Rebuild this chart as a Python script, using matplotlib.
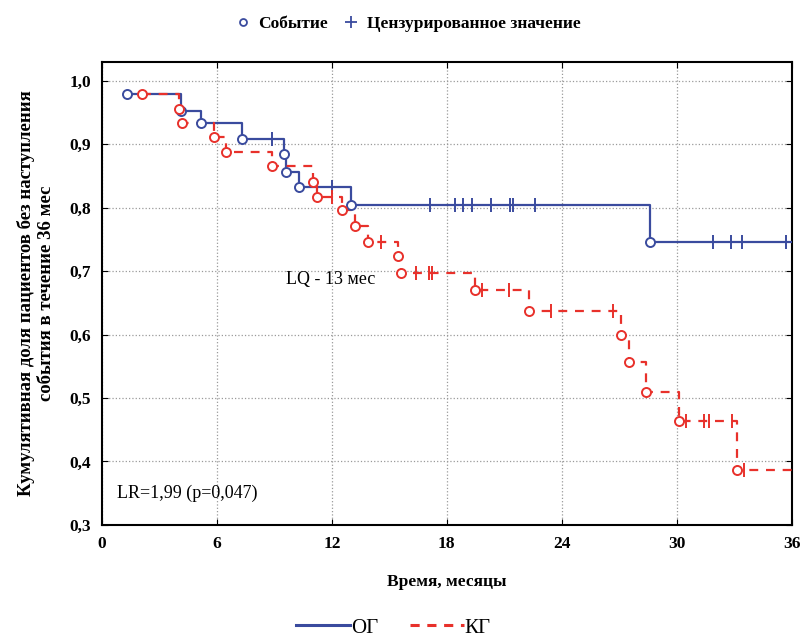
import matplotlib.pyplot as plt
from matplotlib.lines import Line2D
from matplotlib.ticker import FuncFormatter
import numpy as np

plt.rcParams['font.family'] = ['Liberation Serif', 'DejaVu Serif']

# ОГ: moments of event (months) and survival after each event
og_t = [1.3, 4.1, 5.15, 7.3, 9.5, 9.6, 10.3, 13.0, 28.6]
og_s = [0.979, 0.953, 0.933, 0.908, 0.884, 0.857, 0.832, 0.805, 0.746]
og_cens = [8.85, 12.0, 17.1, 18.4, 18.85, 19.3, 20.3, 21.3, 21.45, 22.6,
           31.9, 32.85, 33.4, 35.7]

# КГ
kg_t = [2.1, 4.0, 4.2, 5.85, 6.45, 8.85, 11.0, 11.2, 12.55, 13.2, 13.9,
        15.45, 15.6, 19.45, 22.3, 27.1, 27.5, 28.4, 30.1, 33.15]
kg_s = [0.979, 0.956, 0.933, 0.911, 0.888, 0.865, 0.840, 0.817, 0.796,
        0.771, 0.746, 0.724, 0.697, 0.671, 0.637, 0.600, 0.556, 0.510,
        0.464, 0.387]
kg_cens = [12.0, 14.55, 16.4, 17.05, 17.25, 19.85, 21.25, 23.45, 26.65,
           30.5, 31.4, 31.7, 32.9, 33.5]

x_end = 36
blue = '#3a4b9e'
red = '#e8312b'


def level_at(times, surv, t):
    idx = np.searchsorted(times, t, side='right') - 1
    return surv[max(idx, 0)]


fig = plt.figure(figsize=(8.03, 6.44), dpi=100)
ax = fig.add_axes([0.127, 0.185, 0.859, 0.719])

groups = [(og_t, og_s, og_cens, blue, '-'), (kg_t, kg_s, kg_cens, red, (0, (4, 3.5)))]
for times, surv, cens, col, ls in groups:
    xs = list(times) + [x_end]
    ys = list(surv) + [surv[-1]]
    ax.step(xs, ys, where='post', color=col, linestyle=ls, linewidth=1.6, zorder=3)
    ax.plot(times, surv, 'o', markersize=6.5, markerfacecolor='white',
            markeredgecolor=col, markeredgewidth=1.4, zorder=4)
    cy = [level_at(times, surv, c) for c in cens]
    ax.plot(cens, cy, '|', markersize=10, color=col, markeredgewidth=1.4, zorder=4)

ax.set_xlim(0, 36)
ax.set_ylim(0.3, 1.03)
ax.set_xticks(range(0, 37, 6))
ax.set_yticks(np.arange(0.3, 1.01, 0.1))
ax.yaxis.set_major_formatter(FuncFormatter(lambda v, p: f'{v:.1f}'.replace('.', ',')))
ax.tick_params(direction='in', top=True, right=True, labelsize=12.5, length=4, pad=8)
for lab in ax.get_xticklabels() + ax.get_yticklabels():
    lab.set_fontweight('bold')
ax.grid(True, linestyle=':', color='#9a9a9a', linewidth=0.9)
for sp in ax.spines.values():
    sp.set_linewidth(1.5)

ax.set_xlabel('Время, месяцы', fontsize=12.5, fontweight='bold', labelpad=16)
ax.set_ylabel('Кумулятивная доля пациентов без наступления\nсобытия в течение 36 мес',
              fontsize=13.5, fontweight='bold', labelpad=10, linespacing=1.25)

ax.text(9.6, 0.680, 'LQ - 13 мес', fontsize=13)
ax.text(0.8, 0.342, 'LR=1,99 (p=0,047)', fontsize=13)

top_handles = [
    Line2D([], [], marker='o', linestyle='none', markersize=5,
           markerfacecolor='white', markeredgecolor=blue, markeredgewidth=1.3),
    Line2D([], [], marker='+', linestyle='none', markersize=8,
           color=blue, markeredgewidth=1.3),
]
fig.legend(top_handles, ['Событие', 'Цензурированное значение'], loc='center',
           bbox_to_anchor=(0.505, 0.963), ncol=2, frameon=False,
           prop={'size': 12.5, 'weight': 'bold'}, handletextpad=0.2,
           columnspacing=0.6, handlelength=1.4)

bot_handles = [
    Line2D([], [], color=blue, linestyle='-', linewidth=2.2),
    Line2D([], [], color=red, linestyle=(0, (3, 2.5)), linewidth=2.2),
]
fig.legend(bot_handles, ['ОГ', 'КГ'], loc='center', bbox_to_anchor=(0.49, 0.025),
           ncol=2, frameon=False, prop={'size': 15}, handlelength=2.6,
           handletextpad=0.05, columnspacing=1.5)

fig.savefig('out.png', dpi=100)
